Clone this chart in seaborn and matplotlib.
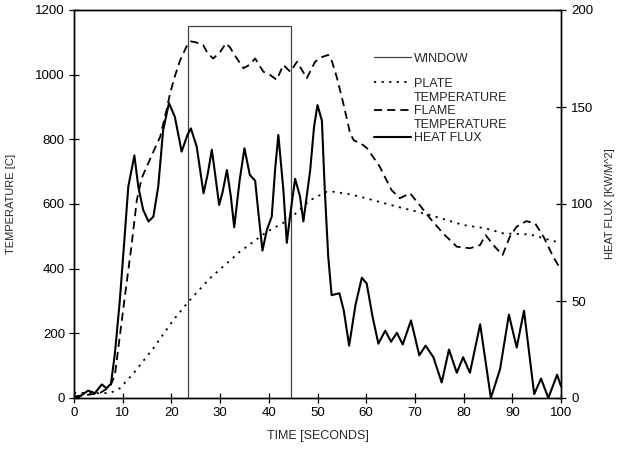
import numpy as np
import pandas as pd
import matplotlib
matplotlib.use("Agg")
import matplotlib.pyplot as plt
from matplotlib.legend_handler import HandlerLine2D
import seaborn as sns

# ---------------- data ----------------
hf_t = [0, 1, 2.9, 4.3, 5.7, 6.7, 7.6, 8.4, 9.4, 10.3, 11.15, 12.4, 13.2, 14.2, 15.3,
        16.3, 17.3, 18.3, 19.5, 20.7, 22.1, 23.3, 24, 25.2, 26.6, 27.5, 28.3, 29.0,
        29.8, 30.5, 31.4, 32.2, 32.9, 34, 35, 36.1, 37.2, 37.8, 38.7, 39.6, 40.6,
        41.3, 41.96, 43, 43.7, 44.35, 45.4, 46.4, 47.1, 48.5, 49.3, 50, 50.9, 51.5,
        52.2, 52.9, 54.5, 55.4, 56.5, 57.8, 59.1, 60.1, 61.3, 62.5, 63.9, 65.1, 66.3,
        67.5, 69.2, 70.9, 72.2, 73.8, 75.5, 77, 78.6, 79.9, 81.3, 83.4, 85.6, 87.5,
        89.3, 90.9, 92.4, 94.5, 95.9, 97.4, 99.2, 100]
hf_v = [0, 0.5, 3.8, 2.5, 7, 5, 7.5, 23, 50, 80, 109, 125, 109, 97, 91,
        93.5, 109, 138, 152, 145, 127, 135.6, 139, 129.5, 105.5, 116, 128, 115,
        99.5, 106, 117.5, 104, 88, 112, 128.7, 115, 112, 97, 76, 86.6, 93.5,
        118, 135.6, 107, 80, 93.5, 113, 104, 91, 117.5, 140, 151, 143, 107,
        73, 53, 54, 45, 27, 48, 62, 59, 42, 28, 34.7, 29, 33.6,
        27.6, 40, 22, 27, 21, 8, 25, 13, 21, 13, 38, 0, 15,
        43, 26, 45, 2, 10, 0, 12, 6]

flame_t = [0, 2, 5.3, 7.4, 8.4, 9.4, 10.7, 11.8, 12.9, 13.9, 16.3, 17.7, 19, 19.7,
           20.6, 21.8, 23.1, 24, 25, 26.5, 27.5, 28.6, 30, 31.2, 32, 33, 34.8, 36,
           37.2, 38.2, 38.9, 40.2, 41.6, 43, 44.4, 45.8, 47.8, 49.5, 51, 52.2, 53,
           54, 55.3, 56.7, 57.4, 59.4, 60.2, 62.8, 65.2, 66.9, 69, 70.7, 73.1, 75.8,
           78.6, 81.3, 83.4, 84.5, 86.4, 88, 89.5, 90.9, 92.9, 94.7, 96.4, 98.4, 100]
flame_v = [5, 8, 15, 35, 71, 190, 344, 470, 612, 680, 762, 808, 891, 940,
           990, 1045, 1087, 1103, 1100, 1092, 1065, 1050, 1070, 1097, 1085, 1060, 1020, 1030,
           1050, 1025, 1009, 1000, 984, 1030, 1009, 1040, 989, 1040, 1055, 1061, 1040,
           990, 911, 819, 798, 782, 772, 715, 643, 618, 633, 602, 556, 509,
           468, 463, 473, 504, 468, 442, 499, 530, 547, 540, 499, 437, 396]

plate_t = [0, 4, 7.4, 9.4, 12.2, 16.3, 20.4, 23.5, 27.9, 34.1, 39.6, 44, 48.5, 51.9,
           53.2, 56.7, 59.4, 66.3, 73.1, 79.9, 84.4, 88.2, 93.6, 99.1, 100]
plate_v = [16, 15, 15, 30, 76, 154, 241, 298, 370, 453, 514, 550, 612, 638,
           638, 630, 620, 592, 566, 535, 525, 509, 506, 483, 480]

window_t = [23.5, 23.5, 44.5, 44.5]
window_v = [0, 1150, 1150, 0]

x_ticks = [0, 10, 20, 30, 40, 50, 60, 70, 80, 90, 100]
temp_ticks = [0, 200, 400, 600, 800, 1000, 1200]
flux_ticks = [0, 50, 100, 150, 200]

legend_labels = ["WINDOW", "PLATE\nTEMPERATURE", "FLAME\nTEMPERATURE", "HEAT FLUX"]

# ---------------- styling ----------------
sns.set_style("ticks")
plt.rcParams["font.family"] = ["Liberation Sans", "DejaVu Sans"]
plt.rcParams["font.size"] = 9

fig = plt.figure(figsize=(6.18, 4.49), dpi=100)
ax = fig.add_axes([74 / 618, 1 - 398 / 449, (561 - 74) / 618, (398 - 10) / 449])
ax2 = ax.twinx()

# window rectangle
sns.lineplot(x=window_t, y=window_v, ax=ax, color="#444444", lw=0.9,
             sort=False, estimator=None)
# plate temperature (dotted)
sns.lineplot(x=plate_t, y=plate_v, ax=ax, color="black", lw=1.3,
             linestyle=(0, (1.2, 3.0)), estimator=None, sort=False)
# flame temperature (dashed)
sns.lineplot(x=flame_t, y=flame_v, ax=ax, color="black", lw=1.3,
             linestyle=(0, (4.5, 2.8)), estimator=None, sort=False)
# heat flux (solid) on right axis
sns.lineplot(x=hf_t, y=hf_v, ax=ax2, color="black", lw=1.5,
             estimator=None, sort=False)

ax.set_xlim(0, 100)
ax.set_ylim(0, 1200)
ax2.set_ylim(0, 200)
ax.set_xticks(x_ticks)
ax.set_yticks(temp_ticks)
ax2.set_yticks(flux_ticks)

for a in (ax, ax2):
    for s in a.spines.values():
        s.set_visible(True)
        s.set_color("black")
        s.set_linewidth(1.0)
ax.tick_params(axis="both", direction="inout", length=7, width=0.9,
               labelsize=9.5, pad=3, colors="black")
ax2.tick_params(axis="y", direction="inout", length=7, width=0.9,
                labelsize=9.5, pad=4, colors="black")

ax.set_xlabel("TIME [SECONDS]", fontsize=9, labelpad=8)
ax.set_ylabel("TEMPERATURE [C]", fontsize=8, labelpad=14)
ax2.set_ylabel("HEAT FLUX [KW/M^2]", fontsize=8, labelpad=8, rotation=90)


class TopLineHandler(HandlerLine2D):
    """Place the legend line level with the first line of a two-line label."""
    def __init__(self, shift=0.0, **kw):
        super().__init__(**kw)
        self.shift = shift

    def create_artists(self, legend, orig_handle, xdescent, ydescent, width,
                       height, fontsize, trans):
        arts = super().create_artists(legend, orig_handle, xdescent, ydescent,
                                      width, height, fontsize, trans)
        for a in arts:
            a.set_ydata(np.asarray(a.get_ydata()) + self.shift * fontsize)
        return arts


lines = ax.get_lines()
w_line, p_line, f_line = lines[0], lines[1], lines[2]
h_line = ax2.get_lines()[0]

leg1 = ax2.legend([w_line], legend_labels[:1], loc="upper left",
                  bbox_to_anchor=(0.615, 0.89), frameon=False,
                  handlelength=3.0, handletextpad=0.2, fontsize=9,
                  borderaxespad=0, borderpad=0)
ax2.add_artist(leg1)
leg2 = ax2.legend([p_line, f_line, h_line], legend_labels[1:],
                  loc="upper left", bbox_to_anchor=(0.615, 0.825), frameon=False,
                  handlelength=3.0, handletextpad=0.2, fontsize=9,
                  labelspacing=0.08, borderaxespad=0, borderpad=0,
                  handler_map={p_line: TopLineHandler(shift=0.7),
                               f_line: TopLineHandler(shift=0.7)})
for t in leg2.get_texts():
    t.set_linespacing(1.25)

fig.savefig("out.png", dpi=100, facecolor="white")
